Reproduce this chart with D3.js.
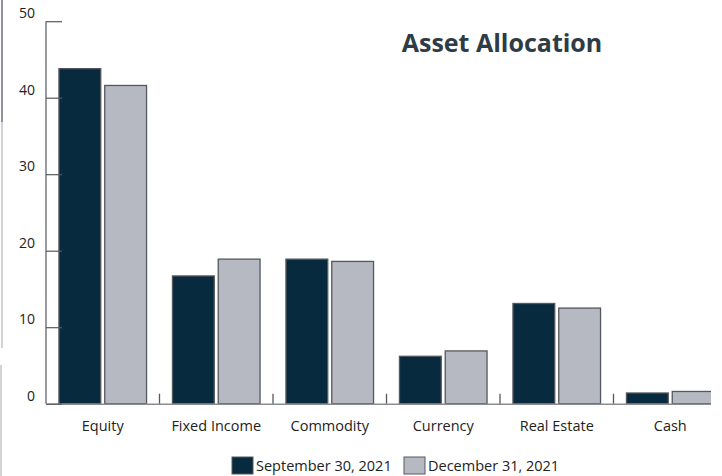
<!DOCTYPE html>
<html>
<head>
<meta charset="utf-8">
<script src="https://cdn.jsdelivr.net/npm/d3@7"></script>
<style>
  html, body { margin: 0; padding: 0; background: #fff; }
  #chart { width: 722px; height: 476px; overflow: hidden; }
  text { font-family: "Open Sans", "Noto Sans", sans-serif; fill: #222; }
</style>
</head>
<body>
<div id="chart"></div>
<script>
  // Data
  const categories = ['Equity', 'Fixed Income', 'Commodity', 'Currency', 'Real Estate', 'Cash'];
  const seriesNames = ['September 30, 2021', 'December 31, 2021'];
  const sep2021 = [43.8, 16.7, 18.9, 6.2, 13.1, 1.4];
  const dec2021 = [41.6, 18.9, 18.6, 6.9, 12.5, 1.6];
  const yTicks = [0, 10, 20, 30, 40, 50];
  const colors = ['#082a3e', '#b7b9c2'];

  const data = categories.map((c, i) => ({ cat: c, values: [sep2021[i], dec2021[i]] }));

  const width = 722, height = 476;
  const svg = d3.select('#chart').append('svg')
    .attr('width', width)
    .attr('height', height);

  // stray frame lines along the left edge of the original picture
  svg.append('line').attr('x1', 2).attr('x2', 2).attr('y1', 0).attr('y2', 122)
    .attr('stroke', '#6b6e76').attr('stroke-width', 1.5);
  svg.append('line').attr('x1', 2).attr('x2', 2).attr('y1', 122).attr('y2', 348)
    .attr('stroke', '#a4a7ad').attr('stroke-width', 1);
  svg.append('line').attr('x1', 1).attr('x2', 1).attr('y1', 365).attr('y2', 476)
    .attr('stroke', '#a4a7ad').attr('stroke-width', 1);

  const left = 46, step = 113.5;
  const x = d3.scaleBand()
    .domain(categories)
    .range([left, left + step * categories.length])
    .padding(0);

  const x1 = d3.scaleBand()
    .domain(d3.range(seriesNames.length))
    .range([0, x.bandwidth()])
    .paddingInner(0.087)
    .paddingOuter(0.283);

  const y = d3.scaleLinear()
    .domain([0, 50])
    .range([403.7, 21.2]);

  svg.append('defs').append('clipPath').attr('id', 'plot-clip')
    .append('rect').attr('x', 0).attr('y', 0).attr('width', 711).attr('height', height);

  const plot = svg.append('g').attr('clip-path', 'url(#plot-clip)');

  // Bars
  plot.selectAll('.group')
    .data(data)
    .enter()
    .append('g')
    .attr('transform', d => `translate(${x(d.cat)},0)`)
    .selectAll('rect')
    .data(d => d.values.map((v, i) => ({ v, i })))
    .enter()
    .append('rect')
    .attr('x', d => x1(d.i))
    .attr('y', d => y(d.v))
    .attr('width', x1.bandwidth())
    .attr('height', d => y(0) - y(d.v))
    .attr('fill', d => colors[d.i])
    .attr('stroke', '#55585e')
    .attr('stroke-width', 1.3);

  // X axis (baseline + category separators)
  const xAxis = plot.append('g')
    .attr('transform', `translate(0,${y(0)})`)
    .call(d3.axisBottom(x).tickSize(0).tickFormat(''));
  xAxis.select('.domain').attr('stroke', '#8a8c90').attr('stroke-width', 1.5);
  xAxis.selectAll('.sep')
    .data(categories.slice(1))
    .enter()
    .append('line')
    .attr('x1', d => x(d)).attr('x2', d => x(d))
    .attr('y1', 0).attr('y2', -10)
    .attr('stroke', '#55585e').attr('stroke-width', 1.3);

  svg.selectAll('.cat-label')
    .data(categories)
    .enter()
    .append('text')
    .attr('x', d => x(d) + x.bandwidth() / 2)
    .attr('y', 431)
    .attr('text-anchor', 'middle')
    .style('font-size', '14.5px')
    .text(d => d);

  // Y axis
  const yAxis = svg.append('g')
    .attr('transform', `translate(${left},0)`)
    .call(d3.axisRight(y).tickValues(yTicks).tickSize(16).tickFormat(''));
  yAxis.select('.domain').attr('stroke', '#55585e').attr('stroke-width', 1.2)
    .attr('d', `M0,${y(50)}V${y(0)}`);
  yAxis.selectAll('.tick line').attr('stroke', '#55585e').attr('stroke-width', 1.2);

  svg.selectAll('.y-label')
    .data(yTicks)
    .enter()
    .append('text')
    .attr('x', 35)
    .attr('y', d => y(d) - 3)
    .attr('text-anchor', 'end')
    .style('font-size', '14px')
    .text(d => d);

  // Title
  svg.append('text')
    .attr('x', 502)
    .attr('y', 52)
    .attr('text-anchor', 'middle')
    .style('font-size', '25px')
    .style('font-weight', '700')
    .style('fill', '#2f3b45')
    .text('Asset Allocation');

  // Legend
  const legendX = [232, 404];
  const legend = svg.selectAll('.legend')
    .data(seriesNames)
    .enter()
    .append('g')
    .attr('transform', (d, i) => `translate(${legendX[i]},457)`);
  legend.append('rect')
    .attr('width', 21).attr('height', 17)
    .attr('fill', (d, i) => colors[i])
    .attr('stroke', '#55585e').attr('stroke-width', 1);
  legend.append('text')
    .attr('x', 24)
    .attr('y', 14)
    .style('font-size', '14.5px')
    .text(d => d);
</script>
</body>
</html>
